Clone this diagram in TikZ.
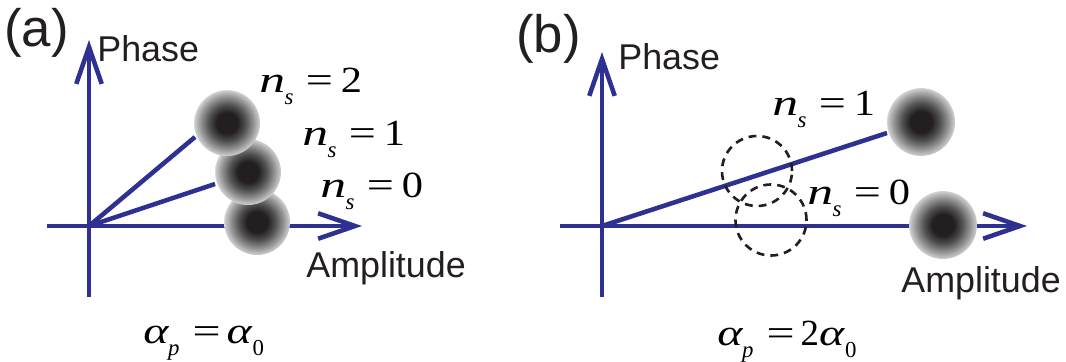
\documentclass[tikz,border=0pt]{standalone}
\usepackage{fontspec}
\usepackage{graphicx}
\setmainfont{Liberation Sans}
\newfontfamily\tms{Liberation Serif}
\usetikzlibrary{arrows.meta}
\definecolor{axblue}{RGB}{46,49,146}
\definecolor{inkc}{RGB}{35,31,32}
\pgfdeclareradialshading{sph}{\pgfpoint{0bp}{0bp}}{%
  color(0bp)=(inkc); color(8bp)=(inkc); color(14bp)=(black!68);
  color(20bp)=(black!42); color(25bp)=(black!18); color(26bp)=(white); color(50bp)=(white)}
\newcommand{\subsc}[1]{\raisebox{-7.2pt}{\fontsize{13}{13}\selectfont #1}}
\newcommand{\nsl}[1]{{\tms\itshape\scalebox{1.4}[1]{n}\kern-0.3pt\subsc{s}\kern7pt\upshape\scalebox{1.3}[1]{=}\kern4.5pt\scalebox{1.15}[1]{#1}}}
\newcommand{\alab}[1]{{\tms\itshape\scalebox{1.3}[1]{α}\kern-0.3pt\subsc{p}\kern7.5pt\upshape\scalebox{1.35}[1]{=}\kern3.4pt#1\itshape\scalebox{1.3}[1]{α}\kern0.5pt\upshape\subsc{0}}}
\tikzset{
  axis/.style={draw=axblue, line width=2.6pt, -{Straight Barb[length=21pt,width=14.5pt,sharp]}},
  ray/.style={draw=axblue, line width=2.6pt},
  sphere/.style={circle, minimum size=#1, inner sep=0pt, draw=none, shading=sph},
  ghost/.style={circle, minimum size=#1, inner sep=0pt, draw=inkc, line width=1.5pt, dash pattern=on 4.5pt off 3.4pt},
  plabel/.style={anchor=base west, inner sep=0pt, text=inkc, font=\fontsize{30}{30}\selectfont},
  axlabel/.style={anchor=base west, inner sep=0pt, text=inkc, font=\fontsize{20.4}{20.4}\selectfont},
  mlabel/.style={anchor=base west, inner sep=0pt, text=black, font=\fontsize{21}{21}\selectfont},
}
\begin{document}
\begin{tikzpicture}[x=0.02cm, y=-0.02cm]
\useasboundingbox (0,0) rectangle (1066,362);
% ---------- panel (a)
\coordinate (oa) at (89,226);
\coordinate (ya) at (89,40);
\coordinate (yab) at (89,297);
\coordinate (xa) at (362,226);
\coordinate (xal) at (47,226);
\coordinate (ea2) at (195,137);
\coordinate (ea1) at (215,184);
\draw[ray] (yab) -- (oa);
\draw[axis] (oa) -- (ya);
\draw[ray] (xal) -- (oa);
\draw[axis] (oa) -- (xa);
\draw[ray] (oa) -- (ea2);
\draw[ray] (oa) -- (ea1);
\node[sphere=66*0.02cm] (sa0) at (257,222) {};
\node[sphere=66*0.02cm] (sa1) at (248,172) {};
\node[sphere=66*0.02cm] (sa2) at (227,123) {};
\node[plabel] (la) at (4,46) {(a)};
\node[axlabel] (pha) at (97,61) {Phase};
\node[axlabel] (ampa) at (306,277) {Amplitude};
\node[mlabel] (na2) at (259,92) {\nsl{2}};
\node[mlabel] (na1) at (302,145) {\nsl{1}};
\node[mlabel] (na0) at (320,197) {\nsl{0}};
\node[mlabel] (aa) at (143,343) {\alab{}};
% ---------- panel (b)
\coordinate (ob) at (602,226);
\coordinate (yb) at (602,52);
\coordinate (ybb) at (602,297);
\coordinate (xb) at (1027,226);
\coordinate (xbl) at (560,226);
\coordinate (eb1) at (887,133);
\draw[ray] (ybb) -- (ob);
\draw[axis] (ob) -- (yb);
\draw[ray] (xbl) -- (ob);
\draw[axis] (ob) -- (xb);
\draw[ray] (ob) -- (eb1);
\node[ghost=70*0.02cm] (gb1) at (757,171) {};
\node[ghost=71*0.02cm] (gb0) at (771,220) {};
\node[sphere=68*0.02cm] (sb1) at (921,122) {};
\node[sphere=68*0.02cm] (sb0) at (943,225) {};
\node[plabel] (lb) at (516,52) {(b)};
\node[axlabel] (phb) at (618,69) {Phase};
\node[axlabel] (ampb) at (901,292) {Amplitude};
\node[mlabel] (nb1) at (772,115) {\nsl{1}};
\node[mlabel] (nb0) at (807,204) {\nsl{0}};
\node[mlabel] (ab) at (717,345) {\alab{2}};
\end{tikzpicture}
\end{document}
